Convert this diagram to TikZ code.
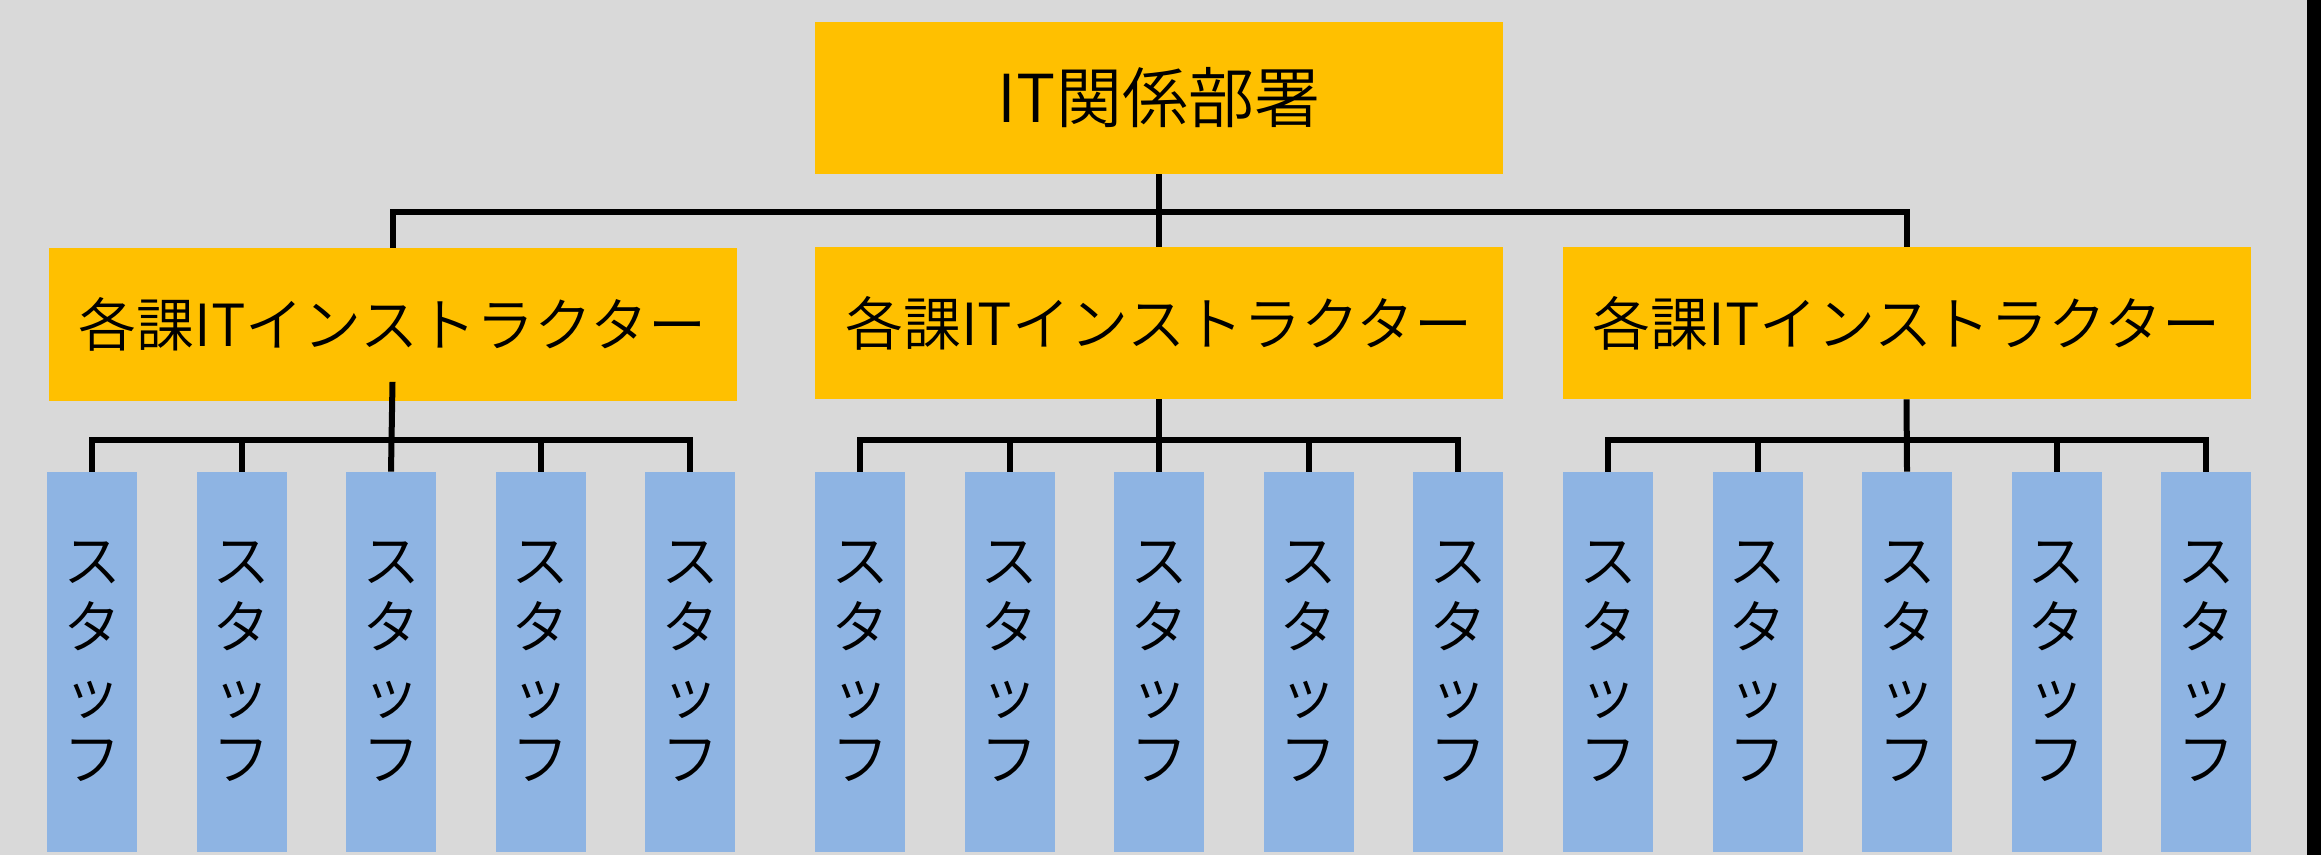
\documentclass[tikz,border=0pt]{standalone}
\usepackage{fontspec}
\newfontfamily\jp{Noto Sans CJK JP DemiLight}
\definecolor{bg}{HTML}{D9D9D9}
\definecolor{gold}{HTML}{FFC000}
\definecolor{staffblue}{HTML}{8EB4E3}
\begin{document}
\begin{tikzpicture}[x=0.5pt,y=-0.5pt,
  orgbox/.style={fill=gold,draw=none,minimum width=344pt,minimum height=76pt,inner sep=0pt,font=\jp\fontsize{29pt}{33pt}\selectfont},
  staffbox/.style={fill=staffblue,draw=none,minimum width=45pt,minimum height=190pt,inner sep=0pt,align=center,font=\jp\fontsize{29pt}{33pt}\selectfont},
  conn/.style={line width=3pt,black}]
\useasboundingbox (0,0) rectangle (2321,855);
\fill[bg] (0,0) rectangle (2321,855);
\fill[black] (2307,0) rectangle (2321,855);
% nodes
\node[orgbox,font=\jp\fontsize{33pt}{37pt}\selectfont] (top) at (1159,98) {IT関係部署};
\node[orgbox] (midL) at (392.5,324.5) {各課ITインストラクター};
\node[orgbox] (midM) at (1159,323) {各課ITインストラクター};
\node[orgbox] (midR) at (1906.5,323) {各課ITインストラクター};
\foreach \g/\xa in {L/92, M/860, R/1608} {
  \foreach \i in {1,...,5} {
    \node[staffbox] (s\g\i) at ({\xa+(\i-1)*149.5},662) {ス\\タ\\ッ\\フ};
  }
}
% top-level connectors
\draw[conn] (top.south) -- (midM.north);
\draw[conn] (midL.north) -- ++(0,-36) -| (midR.north);
% group connectors
\draw[conn] ([yshift=9.5pt]midL.south) -- (sL3.north);
\draw[conn] (midM.south) -- (sM3.north);
\draw[conn] (midR.south) -- (sR3.north);
\foreach \g in {L,M,R} {
  \draw[conn] (s\g1.north) -- ++(0,-32) -| (s\g5.north);
  \draw[conn] (s\g2.north) -- ++(0,-32);
  \draw[conn] (s\g4.north) -- ++(0,-32);
}
\end{tikzpicture}
\end{document}
